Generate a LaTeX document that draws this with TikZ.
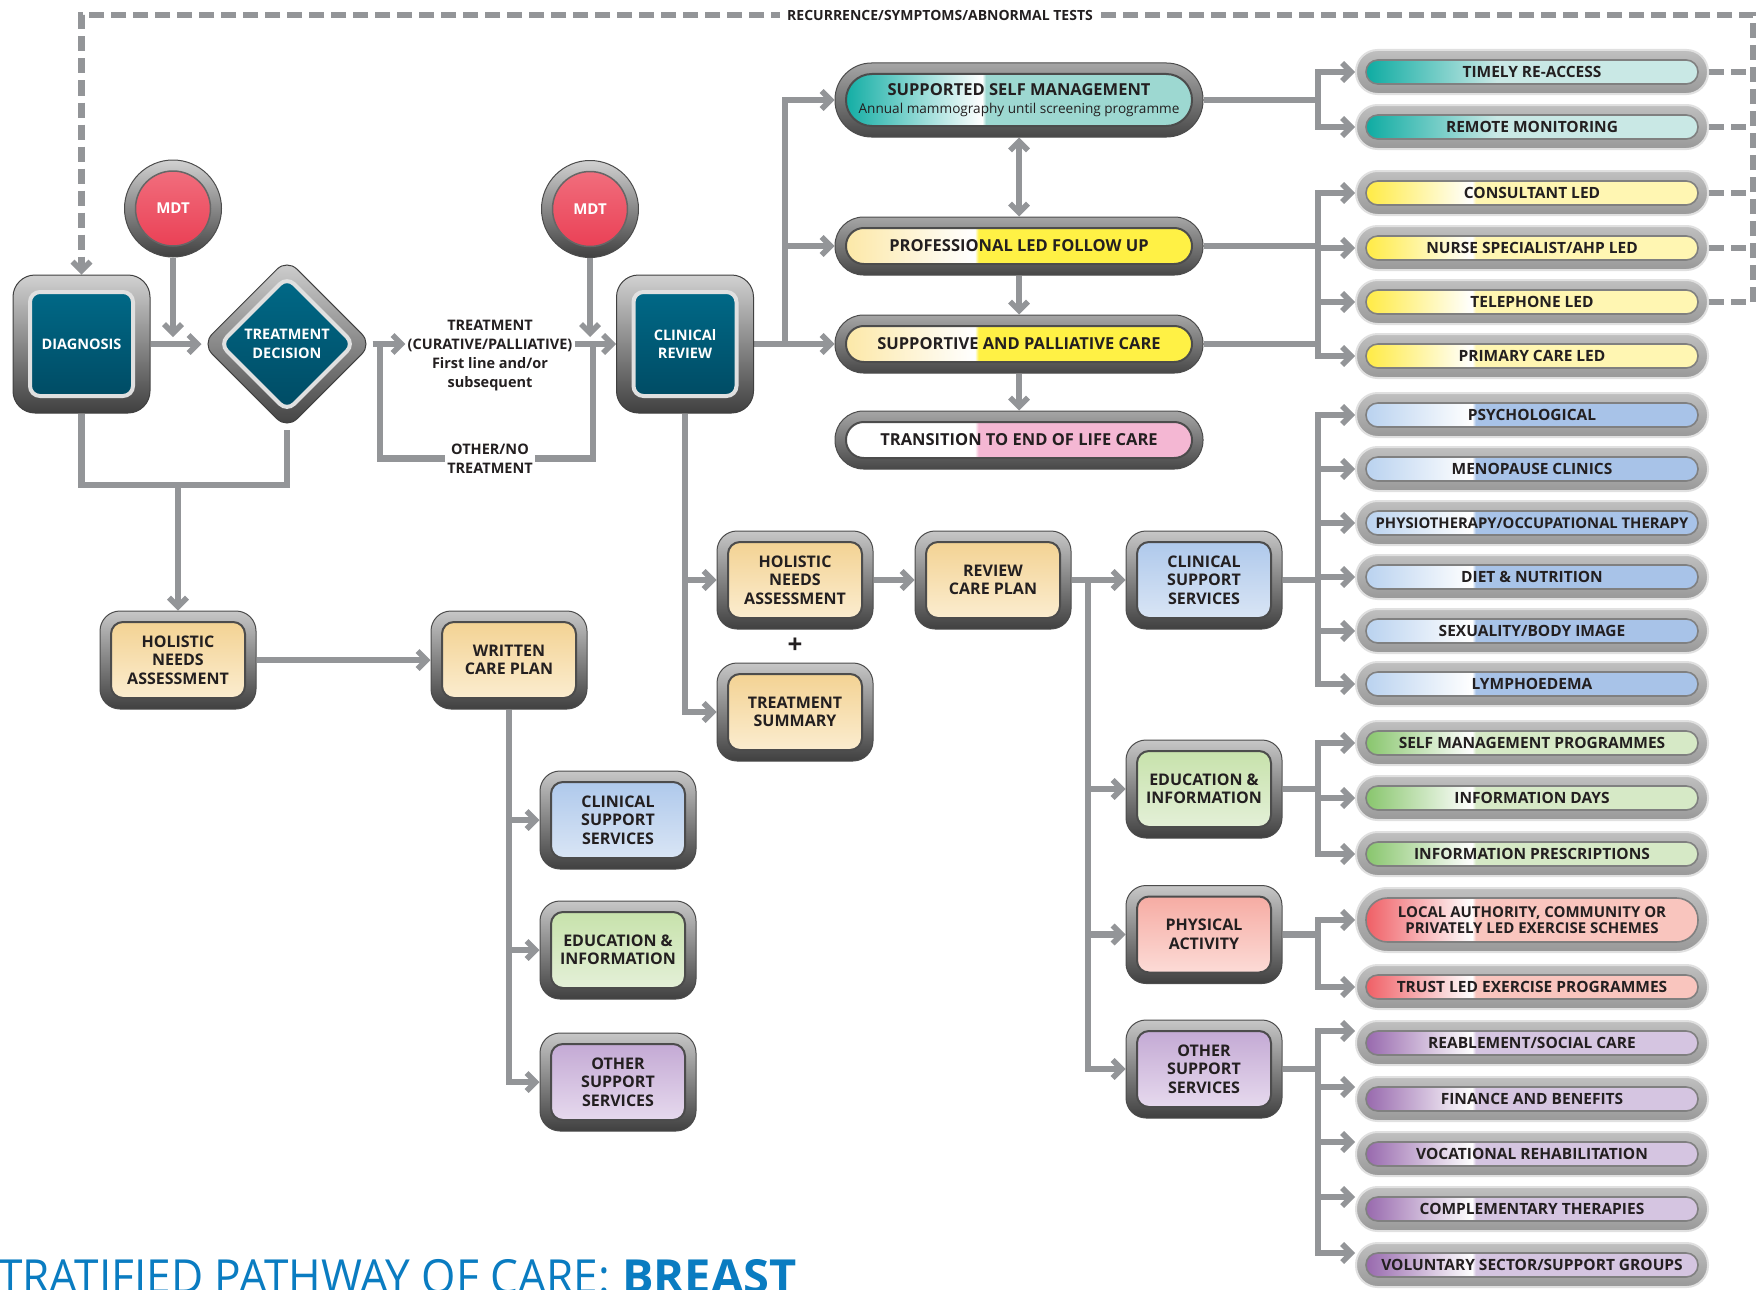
\documentclass[tikz,border=0pt]{standalone}
\usepackage{fontspec}
\setmainfont{Open Sans}
\newfontfamily\titlefont[FakeStretch=0.94]{Open Sans}
\usetikzlibrary{arrows.meta,shapes.geometric}
\pgfdeclarelayer{bg}
\pgfsetlayers{bg,main}

\definecolor{lgray}{HTML}{939598}
\definecolor{txt}{HTML}{231F20}
\definecolor{tealsat}{HTML}{00A79D}
\definecolor{teallt}{HTML}{C9E8E5}
\definecolor{tealmid}{HTML}{9DD8D1}
\definecolor{ylwsat}{HTML}{FFE933}
\definecolor{ylwlt}{HTML}{FFF6B2}
\definecolor{ylwbright}{HTML}{FFF145}
\definecolor{ylwpale}{HTML}{FCE6A0}
\definecolor{pinklt}{HTML}{F4B7D3}
\definecolor{bluesat}{HTML}{B3CEEE}
\definecolor{bluelt}{HTML}{A8C3E8}
\definecolor{grnsat}{HTML}{7DC05F}
\definecolor{grnlt}{HTML}{D6E9C6}
\definecolor{redsat}{HTML}{EE5057}
\definecolor{redlt}{HTML}{F9C5BE}
\definecolor{pursat}{HTML}{8E5BA6}
\definecolor{purlt}{HTML}{D5C5E1}
\definecolor{tantop}{HTML}{F2CF8B}
\definecolor{tanbot}{HTML}{FCF0D8}
\definecolor{bluetop}{HTML}{A9C5EA}
\definecolor{bluebot}{HTML}{DFE9F6}
\definecolor{grntop}{HTML}{C3E0A5}
\definecolor{grnbot}{HTML}{E8F2DE}
\definecolor{redtop}{HTML}{F5A59C}
\definecolor{redbot}{HTML}{FDE2DE}
\definecolor{purtop}{HTML}{BFA3D1}
\definecolor{purbot}{HTML}{EBE0F1}
\definecolor{tealtop}{HTML}{006D8C}
\definecolor{tealbot}{HTML}{00475F}
\definecolor{mdtlt}{HTML}{F27482}
\definecolor{mdtdk}{HTML}{E93A50}
\definecolor{titleblue}{HTML}{0A7CC1}

\pgfdeclarehorizontalshading{shTeal}{100bp}{color(0bp)=(tealsat); color(25bp)=(tealsat); color(45bp)=(teallt); color(100bp)=(teallt)}
\pgfdeclarehorizontalshading{shSSM}{100bp}{color(0bp)=(tealsat); color(25bp)=(tealsat); color(45bp)=(white); color(45.5bp)=(tealmid); color(100bp)=(tealmid)}
\pgfdeclarehorizontalshading{shYlw}{100bp}{color(0bp)=(ylwsat); color(25bp)=(ylwsat); color(41.5bp)=(white); color(42bp)=(ylwlt); color(100bp)=(ylwlt)}
\pgfdeclarehorizontalshading{shYlwB}{100bp}{color(0bp)=(ylwpale); color(25bp)=(ylwpale); color(44bp)=(white); color(44.5bp)=(ylwbright); color(100bp)=(ylwbright)}
\pgfdeclarehorizontalshading{shPink}{100bp}{color(0bp)=(white); color(44bp)=(white); color(44.5bp)=(pinklt); color(100bp)=(pinklt)}
\pgfdeclarehorizontalshading{shBlue}{100bp}{color(0bp)=(bluesat); color(25bp)=(bluesat); color(41.5bp)=(white); color(42bp)=(bluelt); color(100bp)=(bluelt)}
\pgfdeclarehorizontalshading{shGrn}{100bp}{color(0bp)=(grnsat); color(25bp)=(grnsat); color(41.5bp)=(white); color(42bp)=(grnlt); color(100bp)=(grnlt)}
\pgfdeclarehorizontalshading{shRed}{100bp}{color(0bp)=(redsat); color(25bp)=(redsat); color(41.5bp)=(white); color(42bp)=(redlt); color(100bp)=(redlt)}
\pgfdeclarehorizontalshading{shPur}{100bp}{color(0bp)=(pursat); color(25bp)=(pursat); color(41.5bp)=(white); color(42bp)=(purlt); color(100bp)=(purlt)}

\tikzset{
  conn/.style={draw=lgray, line width=6.5pt},
  arr/.style={conn, -{Straight Barb[length=9pt,width=18pt,line width=5.5pt]}},
  darr/.style={conn, {Straight Barb[length=9pt,width=18pt,line width=5.5pt]}-{Straight Barb[length=9pt,width=18pt,line width=5.5pt]}},
  dsh/.style={conn, dash pattern=on 15pt off 7pt},
  lbl/.style={font=\bfseries\fontsize{14.5}{19}\selectfont, text=txt, align=center, inner sep=2pt},
  cbox/.style 2 args={rectangle, rounded corners=20pt, minimum width=156pt, minimum height=98pt, inner sep=0pt,
    draw=black!70, line width=1pt, top color=black!22, middle color=black!30, bottom color=black!75,
    align=center, text=txt, font=\bfseries\fontsize{16}{18.5}\selectfont,
    path picture={\shade[top color=#1, bottom color=#2, draw=black!70, line width=2pt, rounded corners=12pt]
      ([shift={(11pt,-11pt)}]path picture bounding box.north west) rectangle
      ([shift={(-11pt,11pt)}]path picture bounding box.south east);}},
  dbox/.style={rectangle, rounded corners=22pt, minimum width=137pt, minimum height=138pt, inner sep=0pt,
    draw=black!75, line width=1pt, top color=black!18, middle color=black!32, bottom color=black!75,
    align=center, text=white, font=\bfseries\fontsize{14.5}{18.5}\selectfont,
    path picture={\shade[top color=tealtop, bottom color=tealbot, draw=black!12, line width=4pt, rounded corners=10pt]
      ([shift={(17pt,-17pt)}]path picture bounding box.north west) rectangle
      ([shift={(-17pt,17pt)}]path picture bounding box.south east);}},
  ddia/.style={diamond, aspect=1, minimum width=170pt, minimum height=170pt, inner sep=0pt, rounded corners=14pt,
    draw=black!75, line width=1pt, top color=black!18, middle color=black!32, bottom color=black!75,
    align=center, text=white, font=\bfseries\fontsize{14.5}{18.5}\selectfont,
    path picture={\shade[top color=tealtop, bottom color=tealbot, draw=black!12, line width=4pt, rounded corners=10pt]
      ([yshift=67pt]path picture bounding box.center) -- ++(67pt,-67pt) -- ++(-67pt,-67pt) -- ++(-67pt,67pt) -- cycle;}},
  mdt/.style={circle, minimum size=97pt, inner sep=0pt, draw=black!70, line width=1pt,
    top color=black!18, middle color=black!32, bottom color=black!75,
    text=white, font=\bfseries\fontsize{15}{18}\selectfont,
    path picture={\shade[top color=mdtlt, bottom color=mdtdk, draw=black!60, line width=1.5pt]
      (path picture bounding box.center) circle (37.5pt);}},
  rpill/.style={rectangle, rounded corners=21.5pt, minimum width=352pt, minimum height=44pt, inner sep=0pt,
    draw=black!12, line width=2pt, top color=black!25, middle color=black!12, bottom color=black!40,
    text=txt, font=\bfseries\fontsize{15.5}{18}\selectfont, text height=11.2pt, text depth=0pt,
    path picture={\shade[shading=#1, draw=black!50, line width=1.6pt, rounded corners=11.8pt]
      ([shift={(10pt,-10pt)}]path picture bounding box.north west) rectangle
      ([shift={(-10pt,10pt)}]path picture bounding box.south east);}},
  rpillT/.style={rectangle, rounded corners=31.5pt, minimum width=352pt, minimum height=64pt, inner sep=0pt,
    draw=black!12, line width=2pt, top color=black!25, middle color=black!12, bottom color=black!40,
    align=center, text=txt, font=\bfseries\fontsize{15}{16.5}\selectfont,
    path picture={\shade[shading=#1, draw=black!50, line width=1.6pt, rounded corners=21.5pt]
      ([shift={(10pt,-10pt)}]path picture bounding box.north west) rectangle
      ([shift={(-10pt,10pt)}]path picture bounding box.south east);}},
  mpill/.style={rectangle, rounded corners=28.5pt, minimum width=368pt, minimum height=58pt, inner sep=0pt,
    draw=black!70, line width=1pt, top color=black!35, middle color=black!18, bottom color=black!72,
    text=txt, font=\bfseries\fontsize{16.5}{20}\selectfont, text height=11.8pt, text depth=0pt,
    path picture={\shade[shading=#1, draw=black!70, line width=2pt, rounded corners=17.8pt]
      ([shift={(11pt,-11pt)}]path picture bounding box.north west) rectangle
      ([shift={(-11pt,11pt)}]path picture bounding box.south east);}},
  mpillT/.style={rectangle, rounded corners=36.5pt, minimum width=368pt, minimum height=74pt, inner sep=0pt,
    draw=black!70, line width=1pt, top color=black!35, middle color=black!18, bottom color=black!72,
    align=center, text=txt, font=\bfseries\fontsize{16.5}{18.5}\selectfont,
    path picture={\shade[shading=#1, draw=black!70, line width=2pt, rounded corners=25.8pt]
      ([shift={(11pt,-11pt)}]path picture bounding box.north west) rectangle
      ([shift={(-11pt,11pt)}]path picture bounding box.south east);}},
}

\begin{document}
\begin{tikzpicture}[x=1pt,y=-1pt]
\useasboundingbox (0,0) rectangle (1759,1290);

% ---------- left / centre flow ----------
\node[mdt] (mdt1) at (173,208.5) {MDT};
\node[mdt] (mdt2) at (590,209) {MDT};
\node[dbox] (diag) at (81.5,344) {DIAGNOSIS};
\node[ddia] (td) at (287,344) {TREATMENT\\DECISION};
\node[dbox] (cr) at (685,344) {CLINICAl\\REVIEW};
\node[lbl] (tt) at (490,356) {TREATMENT\\(CURATIVE/PALLIATIVE)\\First line and/or\\subsequent};
\node[lbl] (ot) at (490,458.5) {OTHER/NO\\TREATMENT};

\node[cbox={tantop}{tanbot}] (hna1) at (178,660) {HOLISTIC\\NEEDS\\ASSESSMENT};
\node[cbox={tantop}{tanbot}] (wcp) at (509,660) {WRITTEN\\CARE PLAN};
\node[cbox={bluetop}{bluebot}] (css1) at (618,820) {CLINICAL\\SUPPORT\\SERVICES};
\node[cbox={grntop}{grnbot}] (edu1) at (618,950) {EDUCATION \&\\INFORMATION};
\node[cbox={purtop}{purbot}] (oss1) at (618,1082) {OTHER\\SUPPORT\\SERVICES};

\node[cbox={tantop}{tanbot}] (hna2) at (795,580) {HOLISTIC\\NEEDS\\ASSESSMENT};
\node[font=\bfseries\fontsize{26}{26}\selectfont, text=txt, inner sep=0pt] (plus) at (795,646) {+};
\node[cbox={tantop}{tanbot}] (ts) at (795,712) {TREATMENT\\SUMMARY};
\node[cbox={tantop}{tanbot}] (rcp) at (993,580) {REVIEW\\CARE PLAN};
\node[cbox={bluetop}{bluebot}] (css2) at (1204,580) {CLINICAL\\SUPPORT\\SERVICES};
\node[cbox={grntop}{grnbot}] (edu2) at (1204,789) {EDUCATION \&\\INFORMATION};
\node[cbox={redtop}{redbot}] (pa) at (1204,934.5) {PHYSICAL\\ACTIVITY};
\node[cbox={purtop}{purbot}] (oss2) at (1204,1069) {OTHER\\SUPPORT\\SERVICES};

% ---------- middle pills ----------
\node[mpillT=shSSM] (ssm) at (1019,100) {SUPPORTED SELF MANAGEMENT\\{\mdseries\fontsize{13.6}{16}\selectfont Annual mammography until screening programme}};
\node[mpill=shYlwB] (plfu) at (1019,246) {PROFESSIONAL LED FOLLOW UP};
\node[mpill=shYlwB] (spc) at (1019,344) {SUPPORTIVE AND PALLIATIVE CARE};
\node[mpill=shPink] (trans) at (1019,440) {TRANSITION TO END OF LIFE CARE};

% ---------- right pills ----------
\node[rpill=shTeal] (p1) at (1532,72) {TIMELY RE-ACCESS};
\node[rpill=shTeal] (p2) at (1532,127) {REMOTE MONITORING};
\node[rpill=shYlw] (p3) at (1532,193) {CONSULTANT LED};
\node[rpill=shYlw] (p4) at (1532,248) {NURSE SPECIALIST/AHP LED};
\node[rpill=shYlw] (p5) at (1532,302) {TELEPHONE LED};
\node[rpill=shYlw] (p6) at (1532,356) {PRIMARY CARE LED};
\node[rpill=shBlue] (p7) at (1532,415) {PSYCHOLOGICAL};
\node[rpill=shBlue] (p8) at (1532,469) {MENOPAUSE CLINICS};
\node[rpill=shBlue, font=\bfseries\fontsize{14.8}{18}\selectfont] (p9) at (1532,523) {PHYSIOTHERAPY/OCCUPATIONAL THERAPY};
\node[rpill=shBlue] (p10) at (1532,577) {DIET \& NUTRITION};
\node[rpill=shBlue] (p11) at (1532,631) {SEXUALITY/BODY IMAGE};
\node[rpill=shBlue] (p12) at (1532,684) {LYMPHOEDEMA};
\node[rpill=shGrn] (p13) at (1532,743) {SELF MANAGEMENT PROGRAMMES};
\node[rpill=shGrn] (p14) at (1532,798) {INFORMATION DAYS};
\node[rpill=shGrn] (p15) at (1532,854) {INFORMATION PRESCRIPTIONS};
\node[rpillT=shRed] (p16) at (1532,920) {LOCAL AUTHORITY, COMMUNITY OR\\PRIVATELY LED EXERCISE SCHEMES};
\node[rpill=shRed] (p17) at (1532,987) {TRUST LED EXERCISE PROGRAMMES};
\node[rpill=shPur] (p18) at (1532,1043) {REABLEMENT/SOCIAL CARE};
\node[rpill=shPur] (p19) at (1532,1099) {FINANCE AND BENEFITS};
\node[rpill=shPur] (p20) at (1532,1154) {VOCATIONAL REHABILITATION};
\node[rpill=shPur] (p21) at (1532,1209) {COMPLEMENTARY THERAPIES};
\node[rpill=shPur] (p22) at (1532,1265) {VOLUNTARY SECTOR/SUPPORT GROUPS};

% ---------- junction coordinates ----------
\coordinate (rx) at (1753,15);
\coordinate (lx) at (81.5,15);
\coordinate (m1t) at (173,337);
\coordinate (m2t) at (590,337);
\coordinate (j1) at (380,344);
\coordinate (j2) at (593,344);
\coordinate (jb1) at (81.5,485);
\coordinate (jb2) at (287,485);
\coordinate (jb3) at (178,485);
\coordinate (jc) at (785,344);
\coordinate (vx) at (1318,0);
\coordinate (vx2) at (1088,0);

\node[lbl, fill=white, inner xsep=7pt, font=\bfseries\fontsize{14}{17}\selectfont] (rec) at (940,15) {RECURRENCE/SYMPTOMS/ABNORMAL TESTS};

\begin{pgfonlayer}{bg}
% recurrence loop
\draw[dsh, -{Straight Barb[length=9pt,width=18pt,line width=5.5pt]}] (p5.east) -| (rx) -- (lx) -- (diag.north);
\foreach \tg in {p1,p2,p3,p4} \draw[dsh] (\tg.east) -- (\tg.east -| rx);
% left
\draw[arr] (diag.east) -- (td.west);
\draw[arr] (mdt1.south) -- (m1t);
\draw[arr] (mdt2.south) -- (m2t);
\draw[arr] (td.east) -- (td.east -| tt.west);
\draw[conn] (j1) |- (ot.west);
\draw[conn] (ot.east) -| (j2);
\draw[arr] (tt.east |- cr.west) -- (cr.west);
\draw[conn] (diag.south) -- (jb1) -- (jb2) -- (td.south);
\draw[arr] (jb3) -- (hna1.north);
\draw[arr] (hna1.east) -- (wcp.west);
\foreach \tg in {css1,edu1,oss1} \draw[arr] (wcp.south) |- (\tg.west);
% clinical review onwards
\foreach \tg in {hna2,ts} \draw[arr] (cr.south) |- (\tg.west);
\draw[arr] (cr.east) -- (jc) |- (ssm.west);
\draw[arr] (jc) |- (plfu.west);
\draw[arr] (jc) -- (spc.west);
\draw[darr] (ssm.south) -- (plfu.north);
\draw[arr] (plfu.south) -- (spc.north);
\draw[arr] (spc.south) -- (trans.north);
\foreach \tg in {p1,p2} \draw[arr] (ssm.east) -- (ssm.east -| vx) |- (\tg.west);
\foreach \tg in {p3,p4,p5,p6} \draw[arr] (plfu.east) -- (plfu.east -| vx) |- (\tg.west);
\draw[conn] (spc.east) -- (spc.east -| vx);
\draw[arr] (hna2.east) -- (rcp.west);
\draw[arr] (rcp.east) -- (css2.west);
\foreach \tg in {edu2,pa,oss2} \draw[arr] (rcp.east -| vx2) |- (\tg.west);
\foreach \tg in {p7,p8,p9,p10,p11,p12} \draw[arr] (css2.east) -- (css2.east -| vx) |- (\tg.west);
\foreach \tg in {p13,p14,p15} \draw[arr] (edu2.east) -- (edu2.east -| vx) |- (\tg.west);
\foreach \tg in {p16,p17} \draw[arr] (pa.east) -- (pa.east -| vx) |- (\tg.west);
\foreach \tg in {p18,p19,p20,p21,p22} \draw[arr] (oss2.east) -- (oss2.east -| vx) |- ([yshift=12pt]\tg.west);
\end{pgfonlayer}

% title (cut by the page edge as in the reference)
\begin{scope}
\clip (0,0) rectangle (1759,1290);
\node[anchor=base west, inner sep=0pt, text=titleblue, font=\fontsize{47}{50}\selectfont] (title) at (-2,1293)
  {{\titlefont TRATIFIED PATHWAY OF CARE:}\ {\bfseries BREAST}};
\end{scope}
\end{tikzpicture}
\end{document}
